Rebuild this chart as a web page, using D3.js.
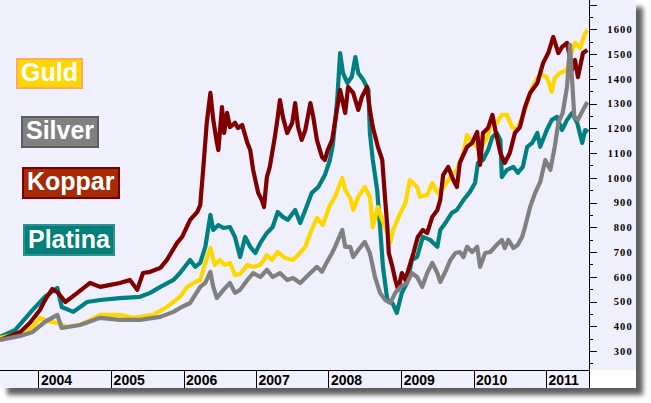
<!DOCTYPE html>
<html>
<head>
<meta charset="utf-8">
<script src="https://cdn.jsdelivr.net/npm/d3@7"></script>
<style>
  body { margin: 0; background: #fff; }
  svg text { font-family: "Liberation Sans", Arial, sans-serif; }
</style>
</head>
<body>
<div id="chart"></div>
<script>
// values: [decimal year, index value]
const guld = [
  [2003.47, 353], [2003.68, 365], [2003.92, 397], [2004.02, 434], [2004.16, 418], [2004.26, 413],
  [2004.39, 397], [2004.57, 405], [2004.85, 446], [2005.12, 446], [2005.30, 434], [2005.58, 446],
  [2005.77, 478], [2005.95, 519], [2006.05, 559], [2006.16, 579], [2006.23, 587], [2006.30, 656],
  [2006.37, 716], [2006.43, 648], [2006.50, 668], [2006.57, 648], [2006.64, 656], [2006.71, 607],
  [2006.78, 611], [2006.88, 648], [2006.96, 640], [2007.06, 648], [2007.15, 688], [2007.22, 668],
  [2007.30, 700], [2007.40, 676], [2007.51, 668], [2007.58, 688], [2007.68, 721], [2007.75, 777],
  [2007.84, 838], [2007.92, 809], [2008.02, 890], [2008.09, 923], [2008.19, 999], [2008.23, 951],
  [2008.30, 918], [2008.34, 870], [2008.41, 923], [2008.50, 963], [2008.57, 923], [2008.61, 801],
  [2008.68, 882], [2008.74, 830], [2008.81, 777], [2008.85, 737], [2008.89, 789], [2008.99, 858],
  [2009.06, 898], [2009.12, 991], [2009.22, 963], [2009.26, 923], [2009.36, 931], [2009.43, 979],
  [2009.50, 939], [2009.58, 959], [2009.68, 1003], [2009.77, 1032], [2009.86, 1100], [2009.91, 1173],
  [2009.99, 1141], [2010.09, 1112], [2010.19, 1165], [2010.26, 1234], [2010.32, 1222], [2010.39, 1254],
  [2010.46, 1254], [2010.53, 1205], [2010.60, 1193], [2010.67, 1246], [2010.74, 1302], [2010.81, 1367],
  [2010.88, 1403], [2010.94, 1415], [2011.01, 1407], [2011.08, 1347], [2011.12, 1403], [2011.19, 1423],
  [2011.29, 1436], [2011.33, 1488], [2011.40, 1545], [2011.47, 1524], [2011.54, 1585], [2011.58, 1597]
];

const silver = [
  [2003.47, 345], [2003.75, 361], [2003.92, 377], [2004.09, 418], [2004.26, 446], [2004.32, 393],
  [2004.57, 405], [2004.85, 434], [2005.12, 426], [2005.40, 426], [2005.68, 438], [2005.86, 458],
  [2005.95, 474], [2006.09, 494], [2006.23, 559], [2006.30, 575], [2006.37, 620], [2006.41, 559],
  [2006.46, 514], [2006.55, 547], [2006.64, 575], [2006.71, 535], [2006.78, 547], [2006.88, 587],
  [2006.96, 615], [2007.06, 599], [2007.15, 628], [2007.23, 599], [2007.33, 615], [2007.43, 587],
  [2007.51, 595], [2007.61, 575], [2007.68, 595], [2007.75, 615], [2007.84, 640], [2007.91, 620],
  [2007.98, 660], [2008.05, 696], [2008.09, 721], [2008.19, 789], [2008.23, 721], [2008.30, 721],
  [2008.34, 680], [2008.41, 708], [2008.50, 741], [2008.57, 696], [2008.64, 599], [2008.71, 535],
  [2008.78, 506], [2008.85, 494], [2008.92, 535], [2008.99, 559], [2009.08, 575], [2009.15, 615],
  [2009.22, 599], [2009.29, 559], [2009.36, 615], [2009.43, 656], [2009.50, 615], [2009.54, 579],
  [2009.61, 620], [2009.68, 668], [2009.75, 696], [2009.81, 700], [2009.86, 680], [2009.91, 721],
  [2009.98, 700], [2010.05, 721], [2010.09, 640], [2010.16, 696], [2010.23, 700], [2010.32, 729],
  [2010.39, 749], [2010.43, 716], [2010.48, 749], [2010.55, 716], [2010.61, 729], [2010.67, 761],
  [2010.71, 801], [2010.78, 882], [2010.85, 939], [2010.92, 983], [2010.99, 1072], [2011.06, 1032],
  [2011.12, 1125], [2011.17, 1222], [2011.23, 1262], [2011.29, 1367], [2011.33, 1537], [2011.36, 1395],
  [2011.39, 1246], [2011.44, 1234], [2011.51, 1274], [2011.57, 1306]
];

const koppar = [
  [2003.47, 345], [2003.61, 361], [2003.75, 377], [2003.88, 413], [2004.02, 466], [2004.09, 506],
  [2004.19, 551], [2004.27, 535], [2004.37, 498], [2004.50, 527], [2004.71, 575], [2004.85, 559],
  [2004.99, 567], [2005.12, 575], [2005.26, 587], [2005.36, 547], [2005.44, 615], [2005.54, 620],
  [2005.68, 636], [2005.77, 668], [2005.91, 737], [2005.98, 761], [2006.09, 830], [2006.19, 862],
  [2006.23, 890], [2006.27, 1032], [2006.32, 1222], [2006.37, 1343], [2006.41, 1234], [2006.46, 1141],
  [2006.48, 1112], [2006.53, 1286], [2006.56, 1181], [2006.60, 1262], [2006.64, 1205], [2006.71, 1222],
  [2006.75, 1201], [2006.81, 1213], [2006.88, 1141], [2006.92, 1112], [2006.96, 1032], [2007.03, 939],
  [2007.08, 910], [2007.11, 882], [2007.15, 1003], [2007.19, 1044], [2007.26, 1165], [2007.30, 1246],
  [2007.33, 1314], [2007.37, 1246], [2007.43, 1181], [2007.50, 1222], [2007.54, 1302], [2007.58, 1205],
  [2007.63, 1153], [2007.68, 1193], [2007.75, 1302], [2007.79, 1246], [2007.84, 1153], [2007.91, 1084],
  [2007.95, 1072], [2007.99, 1112], [2008.05, 1153], [2008.09, 1226], [2008.16, 1355], [2008.23, 1262],
  [2008.27, 1367], [2008.34, 1343], [2008.41, 1274], [2008.46, 1327], [2008.53, 1367], [2008.57, 1274],
  [2008.61, 1205], [2008.68, 1125], [2008.74, 1072], [2008.77, 951], [2008.81, 801], [2008.83, 696],
  [2008.88, 640], [2008.92, 587], [2008.96, 547], [2009.01, 615], [2009.06, 587], [2009.10, 628],
  [2009.17, 696], [2009.23, 761], [2009.30, 789], [2009.36, 777], [2009.43, 842], [2009.50, 870],
  [2009.54, 910], [2009.58, 1011], [2009.65, 1044], [2009.72, 991], [2009.77, 963], [2009.81, 1060],
  [2009.91, 1125], [2009.98, 1141], [2010.05, 1185], [2010.09, 1052], [2010.13, 1181], [2010.20, 1201],
  [2010.26, 1254], [2010.30, 1193], [2010.37, 1100], [2010.43, 1060], [2010.50, 1100], [2010.57, 1181],
  [2010.64, 1205], [2010.71, 1286], [2010.78, 1343], [2010.88, 1383], [2010.96, 1464], [2011.03, 1504],
  [2011.10, 1569], [2011.17, 1504], [2011.22, 1528], [2011.29, 1545], [2011.36, 1436], [2011.40, 1476],
  [2011.44, 1407], [2011.51, 1504], [2011.57, 1516]
];

const platina = [
  [2003.47, 357], [2003.68, 385], [2003.92, 466], [2004.09, 519], [2004.26, 555], [2004.32, 478],
  [2004.48, 458], [2004.67, 498], [2004.85, 506], [2005.12, 514], [2005.40, 519], [2005.54, 535],
  [2005.68, 559], [2005.86, 587], [2005.95, 615], [2006.09, 668], [2006.16, 640], [2006.23, 656],
  [2006.30, 721], [2006.37, 850], [2006.41, 789], [2006.48, 809], [2006.55, 797], [2006.64, 801],
  [2006.71, 761], [2006.78, 680], [2006.85, 761], [2006.92, 721], [2006.99, 696], [2007.06, 737],
  [2007.15, 777], [2007.23, 801], [2007.30, 862], [2007.37, 842], [2007.44, 830], [2007.54, 870],
  [2007.61, 817], [2007.68, 870], [2007.77, 939], [2007.86, 963], [2007.95, 1011], [2008.02, 1072],
  [2008.06, 1133], [2008.12, 1314], [2008.16, 1504], [2008.20, 1423], [2008.26, 1383], [2008.32, 1407],
  [2008.37, 1488], [2008.41, 1423], [2008.48, 1395], [2008.55, 1355], [2008.57, 1181], [2008.61, 1072],
  [2008.67, 951], [2008.71, 801], [2008.75, 640], [2008.81, 506], [2008.88, 494], [2008.94, 454],
  [2009.01, 535], [2009.08, 575], [2009.15, 668], [2009.22, 680], [2009.30, 761], [2009.40, 749],
  [2009.50, 721], [2009.54, 789], [2009.61, 817], [2009.70, 858], [2009.77, 870], [2009.86, 910],
  [2009.95, 943], [2010.02, 979], [2010.06, 1060], [2010.13, 1072], [2010.20, 1112], [2010.26, 1165],
  [2010.32, 1181], [2010.37, 1153], [2010.39, 1003], [2010.46, 1032], [2010.55, 1044], [2010.61, 1020],
  [2010.68, 1044], [2010.74, 1125], [2010.81, 1141], [2010.88, 1181], [2010.92, 1125], [2011.01, 1193],
  [2011.08, 1234], [2011.15, 1246], [2011.22, 1193], [2011.29, 1234], [2011.36, 1262], [2011.43, 1222],
  [2011.50, 1141], [2011.54, 1193], [2011.58, 1185]
];

const legendNames = ["Guld", "Silver", "Koppar", "Platina"];
const yLabelValues = d3.range(300, 1601, 100);
const timeSpan = [2003.469, 2011.593];

// chart geometry
const W = 651, H = 403;
const cardW = 636, cardH = 388;
const plotW = 589, plotH = 370;

// decimal year -> Date
function toDate(t) {
  const yr = Math.floor(t);
  const s = Date.UTC(yr, 0, 1), e = Date.UTC(yr + 1, 0, 1);
  return new Date(s + (t - yr) * (e - s));
}

const x = d3.scaleUtc().domain(timeSpan.map(toDate)).range([0, plotW]);
const y = d3.scaleLinear().domain([300, 1600]).range([351, 29.3]);

const svg = d3.select("#chart").append("svg")
  .attr("width", W).attr("height", H);

const defs = svg.append("defs");
defs.append("filter").attr("id", "shadow")
  .attr("x", "-5%").attr("y", "-5%").attr("width", "110%").attr("height", "110%")
  .append("feGaussianBlur").attr("stdDeviation", 2.4);
defs.append("clipPath").attr("id", "plotclip")
  .append("rect").attr("width", plotW).attr("height", plotH);

// drop shadow + card
svg.append("rect")
  .attr("x", 7).attr("y", 7).attr("width", cardW).attr("height", cardH)
  .attr("fill", "#5e5e5e").attr("filter", "url(#shadow)");
svg.append("rect")
  .attr("width", cardW).attr("height", cardH).attr("fill", "#f0f0fc");
svg.append("rect")
  .attr("x", plotW).attr("y", plotH).attr("width", cardW - plotW).attr("height", cardH - plotH)
  .attr("fill", "#fff");

// series lines
const colors = { Guld: "#ffd700", Silver: "#808080", Koppar: "#800000", Platina: "#008080" };
const seriesData = { Guld: guld, Silver: silver, Koppar: koppar, Platina: platina };
const drawOrder = ["Platina", "Guld", "Koppar", "Silver"];

const line = d3.line()
  .x(d => x(toDate(d[0])))
  .y(d => y(d[1]));

svg.append("g").attr("clip-path", "url(#plotclip)")
  .selectAll("path")
  .data(drawOrder)
  .join("path")
  .attr("d", k => line(seriesData[k]))
  .attr("fill", "none")
  .attr("stroke", k => colors[k])
  .attr("stroke-width", 4.2)
  .attr("stroke-linejoin", "round");

// right axis
const yAxisG = svg.append("g").attr("transform", `translate(${plotW},0)`);
yAxisG.append("g")
  .call(d3.axisRight(y).tickValues(d3.range(250, 1701, 100)).tickSize(4).tickFormat(""));
yAxisG.append("g")
  .call(d3.axisRight(y).tickValues(d3.range(300, 1701, 100)).tickSize(8)
    .tickFormat(d => yLabelValues.includes(d) ? d : ""));
yAxisG.selectAll(".domain").remove();
yAxisG.selectAll(".tick line").attr("stroke", "#000").attr("shape-rendering", "crispEdges");
yAxisG.selectAll(".tick text")
  .attr("x", 44).attr("text-anchor", "end")
  .style("font-family", "'Liberation Serif', 'Times New Roman', serif")
  .style("font-weight", "bold").style("font-size", "10.5px")
  .style("letter-spacing", "1.2px")
  .attr("fill", "#000");

svg.append("line")
  .attr("x1", plotW + 0.5).attr("x2", plotW + 0.5).attr("y1", 0).attr("y2", cardH)
  .attr("stroke", "#000").attr("shape-rendering", "crispEdges");

// bottom axis: year boxes
const xAxisG = svg.append("g").attr("transform", `translate(0,${plotH})`)
  .call(d3.axisBottom(x).ticks(d3.utcYear.every(1)).tickSize(cardH - plotH).tickSizeOuter(0)
    .tickFormat(d3.utcFormat("%Y")));
xAxisG.select(".domain").remove();
xAxisG.selectAll(".tick line").attr("stroke", "#000").attr("shape-rendering", "crispEdges");
xAxisG.selectAll(".tick text")
  .attr("x", 2).attr("y", 15).attr("dy", 0)
  .attr("text-anchor", "start")
  .style("font-family", "'Liberation Sans', Arial, sans-serif")
  .style("font-weight", "bold").style("font-size", "14px")
  .attr("fill", "#000");

svg.append("line")
  .attr("x1", 0).attr("x2", plotW).attr("y1", plotH + 0.5).attr("y2", plotH + 0.5)
  .attr("stroke", "#000").attr("shape-rendering", "crispEdges");

// legend labels
const legendStyle = {
  Guld:    { fill: "#ffd700", border: "#ffab5e", box: [16, 58, 67, 31], text: [21, 81] },
  Silver:  { fill: "#808080", border: "#5e5e5e", box: [21, 116, 78, 32], text: [26, 139] },
  Koppar:  { fill: "#a52a05", border: "#7a0000", box: [22, 167, 98, 32], text: [27, 190] },
  Platina: { fill: "#008078", border: "#2e9090", box: [23, 224, 92, 32], text: [28, 248] }
};

const legend = svg.append("g")
  .selectAll("g")
  .data(legendNames)
  .join("g");
legend.append("rect")
  .attr("x", k => legendStyle[k].box[0] + 1)
  .attr("y", k => legendStyle[k].box[1] + 1)
  .attr("width", k => legendStyle[k].box[2] - 2)
  .attr("height", k => legendStyle[k].box[3] - 2)
  .attr("fill", k => legendStyle[k].fill)
  .attr("stroke", k => legendStyle[k].border)
  .attr("stroke-width", 2);
legend.append("text")
  .attr("x", k => legendStyle[k].text[0])
  .attr("y", k => legendStyle[k].text[1])
  .attr("fill", "#fff")
  .style("font-weight", "bold")
  .style("font-size", "25px")
  .text(k => k);
</script>
</body>
</html>
